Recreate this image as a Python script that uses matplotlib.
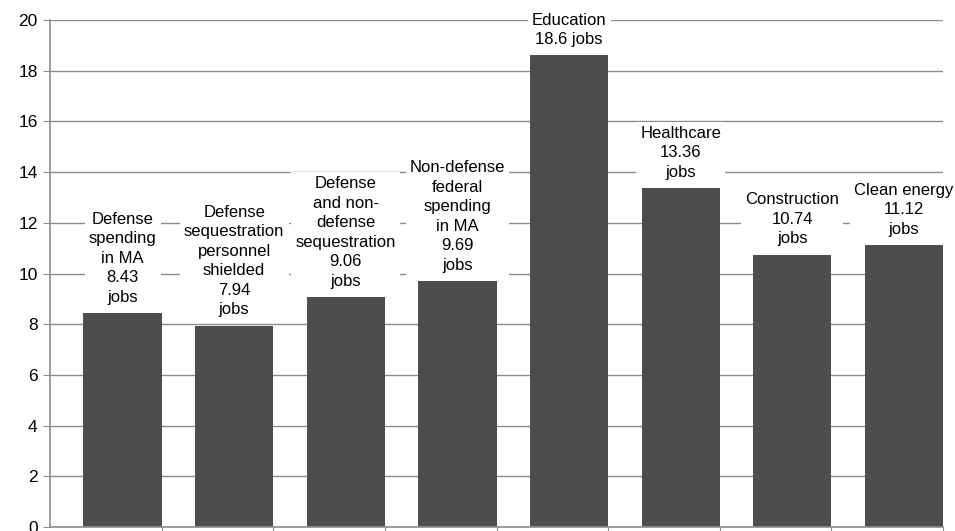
import matplotlib.pyplot as plt
import numpy as np

plt.rcParams['font.family'] = ['Liberation Sans', 'DejaVu Sans']

values = [8.43, 7.94, 9.06, 9.69, 18.6, 13.36, 10.74, 11.12]
labels = [
    "Defense\nspending\nin MA\n8.43\njobs",
    "Defense\nsequestration\npersonnel\nshielded\n7.94\njobs",
    "Defense\nand non-\ndefense\nsequestration\n9.06\njobs",
    "Non-defense\nfederal\nspending\nin MA\n9.69\njobs",
    "Education\n18.6 jobs",
    "Healthcare\n13.36\njobs",
    "Construction\n10.74\njobs",
    "Clean energy\n11.12\njobs",
]
y_ticks = [0, 2, 4, 6, 8, 10, 12, 14, 16, 18, 20]

grid_color = '#8c8c8c'
bar_color = '#4d4d4d'

fig = plt.figure(figsize=(9.55, 5.31), dpi=100)
ax = fig.add_axes([50 / 955, 4 / 531, 893 / 955, 507 / 531])

x = np.arange(len(values))
# bars sit against the right edge of each category slot
ax.bar(x + 0.30, values, width=0.70, align='edge', color=bar_color, zorder=2)

for xi, v, lab in zip(x, values, labels):
    ax.annotate(lab, (xi + 0.65, v), xytext=(0, 6), textcoords='offset points',
                ha='center', va='bottom', fontsize=12, linespacing=1.38,
                bbox=dict(facecolor='white', edgecolor='none', pad=3),
                zorder=3, annotation_clip=False)

ax.set_xlim(0, len(values))
ax.set_ylim(0, 20)
ax.set_yticks(y_ticks)
ax.set_xticks(np.arange(1, len(values) + 1))
ax.set_xticklabels([])
ax.tick_params(axis='y', labelsize=12.5, length=5, color=grid_color, pad=4)
ax.tick_params(axis='x', length=5, color=grid_color)
ax.yaxis.grid(True, color=grid_color, linewidth=1, zorder=0)
ax.set_axisbelow(True)

for s in ['top', 'right']:
    ax.spines[s].set_visible(False)
for s in ['left', 'bottom']:
    ax.spines[s].set_color(grid_color)
    ax.spines[s].set_linewidth(1.2)

fig.savefig('out.png', dpi=100)
